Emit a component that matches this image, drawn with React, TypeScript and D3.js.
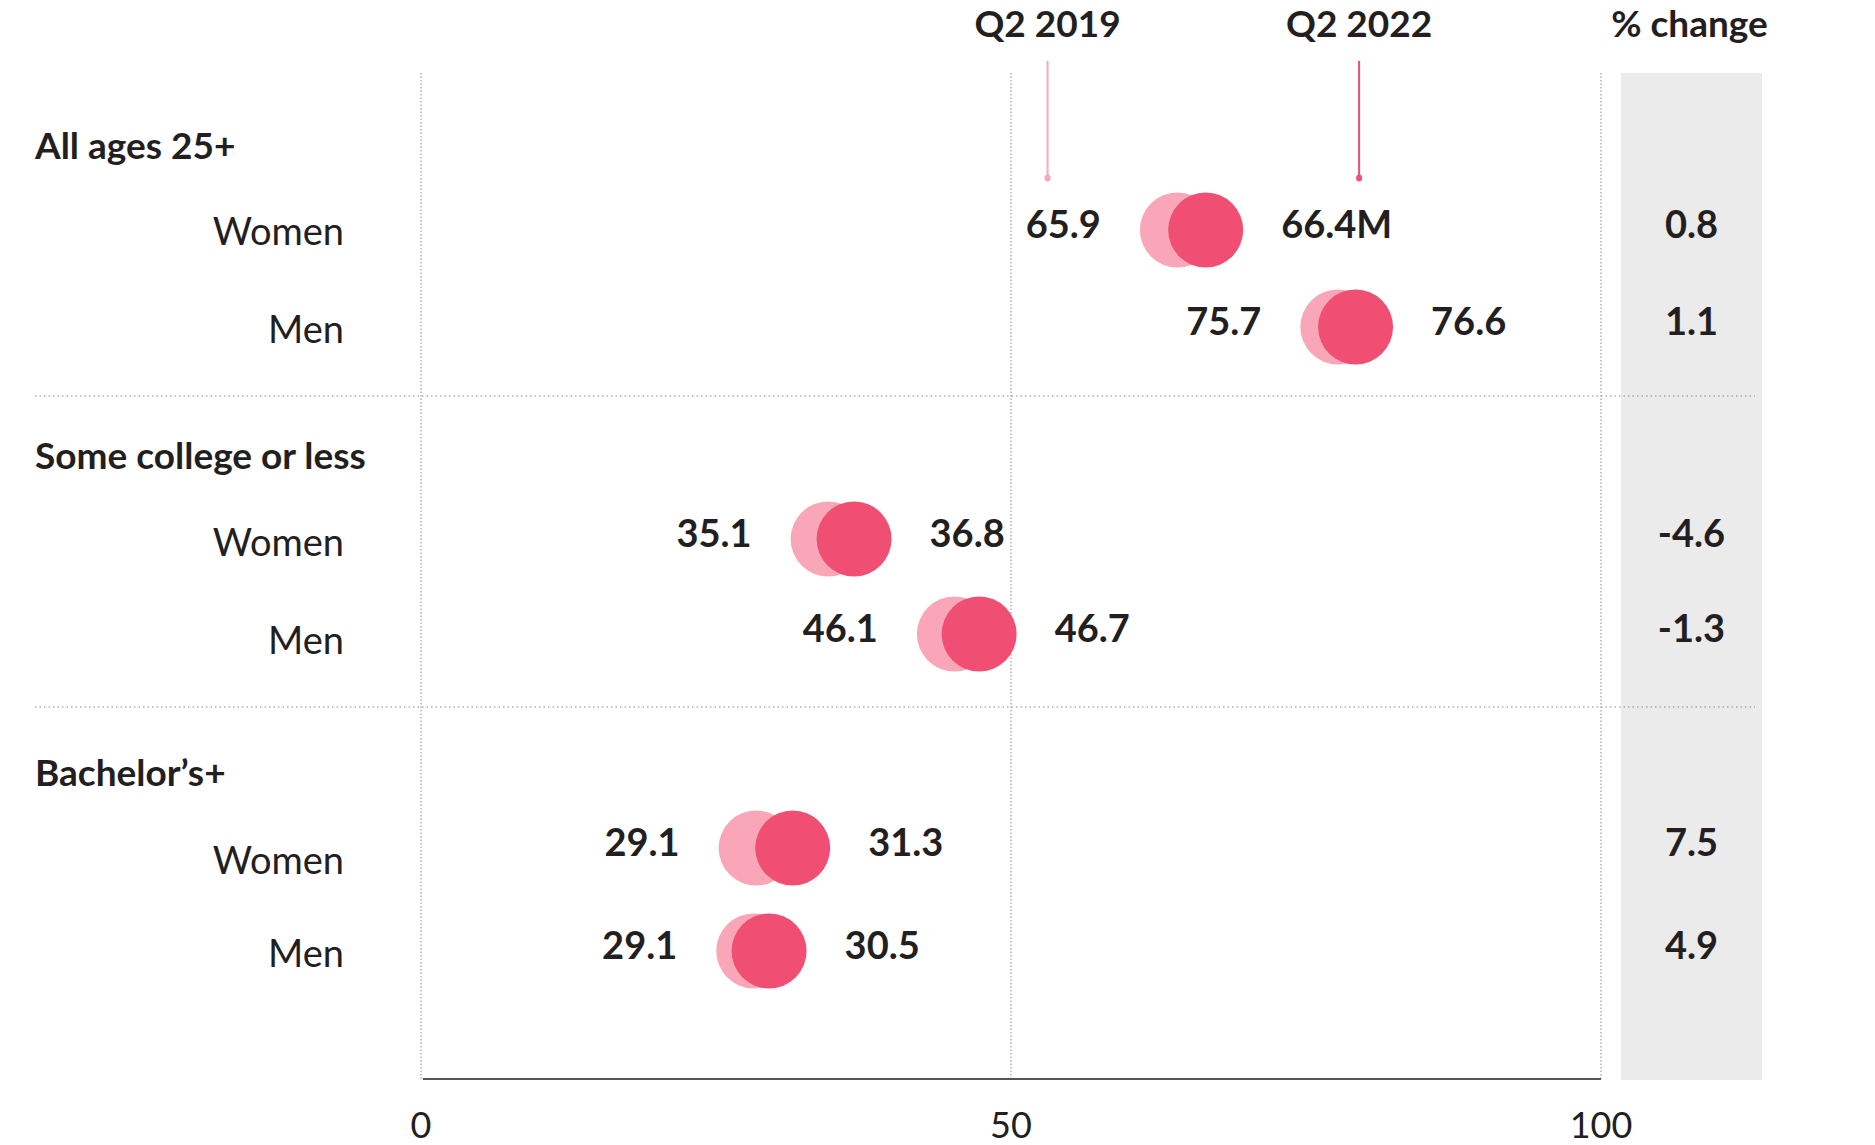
import React from 'react';
import * as d3 from 'd3';

// ---- data ----
const groups = ['All ages 25+', 'Some college or less', 'Bachelor’s+'];
const rowLabels = ['Women', 'Men'];
// value labels printed left / right of the dots
const leftLabels = [65.9, 75.7, 35.1, 46.1, 29.1, 29.1];
const rightLabels = [66.4, 76.6, 36.8, 46.7, 31.3, 30.5];
// dot positions (x-axis units)
const dots2019 = [64.1, 77.7, 34.5, 45.2, 28.4, 28.2];
const dots2022 = [66.5, 79.2, 36.7, 47.3, 31.5, 29.5];
const pctChange = ['0.8', '1.1', '-4.6', '-1.3', '7.5', '4.9'];
const xTicks = [0, 50, 100];
const legendLabels = ['Q2 2019', 'Q2 2022'];
const legendPos = [53.1, 79.5];

const W = 1875;
const H = 1145;
const LIGHT = '#f8a6b8';
const DARK = '#f04e72';
const TEXT = '#231f20';
const FONT = 'Lato, "Noto Sans", sans-serif';

// ---- layout ----
const groupTops = [86, 396, 707];
const titleOffset = [73, 73, 79];
const rowOffsets = [
  [144, 241],
  [143, 238],
  [141, 244],
];
const rowLabelShift = [1, 2, 3, 6, 12, 2];

export default function App() {
  const x = d3.scaleLinear().domain([0, 100]).range([421, 1601]);
  const R = 37.5;
  const plotTop = 73;
  const plotBottom = 1079;
  const bandX0 = 1621;
  const bandX1 = 1762;
  const bandC = (bandX0 + bandX1) / 2;

  const rows = groups.flatMap((g, gi) =>
    rowLabels.map((r, ri) => ({ gi, ri, i: gi * 2 + ri, cy: groupTops[gi] + rowOffsets[gi][ri] }))
  );

  return (
    <svg
      width={W}
      height={H}
      viewBox={`0 0 ${W} ${H}`}
      style={{ position: 'absolute', left: 0, top: 0, background: '#fff' }}
      fontFamily={FONT}
    >
      {/* % change band */}
      <rect x={bandX0} y={plotTop} width={bandX1 - bandX0} height={plotBottom + 1 - plotTop} fill="#ebebeb" />

      {/* vertical grid */}
      {xTicks.map((t) => (
        <line
          key={t}
          x1={x(t)}
          x2={x(t)}
          y1={plotTop}
          y2={plotBottom}
          stroke="#8a8a8a"
          strokeWidth={1}
          strokeDasharray="1.5,2"
        />
      ))}

      {/* separators */}
      {[1, 2].map((g) => (
        <line
          key={g}
          x1={35}
          x2={1755}
          y1={groupTops[g]}
          y2={groupTops[g]}
          stroke="#8a8a8a"
          strokeWidth={1.2}
          strokeDasharray="1.5,3"
        />
      ))}

      {/* axis baseline */}
      <line x1={x(0) + 2} x2={x(100)} y1={plotBottom} y2={plotBottom} stroke="#555" strokeWidth={2} />
      {xTicks.map((t) => (
        <text key={t} x={x(t)} y={1138} textAnchor="middle" fontSize={36} fill={TEXT}>
          {t}
        </text>
      ))}

      {/* headers */}
      {legendLabels.map((l, i) => (
        <g key={l}>
          <text x={x(legendPos[i])} y={37} textAnchor="middle" fontSize={37} fontWeight={700} fill={TEXT}>
            {l}
          </text>
          <line
            x1={x(legendPos[i])}
            x2={x(legendPos[i])}
            y1={61}
            y2={177}
            stroke={i === 0 ? LIGHT : DARK}
            strokeWidth={2}
          />
          <ellipse cx={x(legendPos[i])} cy={178} rx={3} ry={3.5} fill={i === 0 ? LIGHT : DARK} />
        </g>
      ))}
      <text x={bandC - 2} y={37} textAnchor="middle" fontSize={37} fontWeight={700} fill={TEXT}>
        % change
      </text>

      {/* group titles */}
      {groups.map((g, gi) => (
        <text key={g} x={35} y={groupTops[gi] + titleOffset[gi]} fontSize={37} fontWeight={700} fill={TEXT}>
          {g}
        </text>
      ))}

      {/* rows */}
      {rows.map(({ ri, i, cy }) => {
        const x1 = x(dots2019[i]);
        const x2 = x(dots2022[i]);
        return (
          <g key={i}>
            <text
              x={344}
              y={cy + rowLabelShift[i]}
              dy="0.36em"
              textAnchor="end"
              fontSize={38}
              fill={TEXT}
            >
              {rowLabels[ri]}
            </text>
            <circle cx={x1} cy={cy} r={R} fill={LIGHT} />
            <circle cx={x2} cy={cy} r={R} fill={DARK} />
            <text x={x1 - R - 39} y={cy + 8} textAnchor="end" fontSize={38} fontWeight={700} fill={TEXT}>
              {leftLabels[i].toFixed(1)}
            </text>
            <text x={x2 + R + 38} y={cy + 8} textAnchor="start" fontSize={38} fontWeight={700} fill={TEXT}>
              {rightLabels[i].toFixed(1) + (i === 0 ? 'M' : '')}
            </text>
            <text x={bandC} y={cy + 8} textAnchor="middle" fontSize={38} fontWeight={700} fill={TEXT}>
              {pctChange[i]}
            </text>
          </g>
        );
      })}
    </svg>
  );
}
